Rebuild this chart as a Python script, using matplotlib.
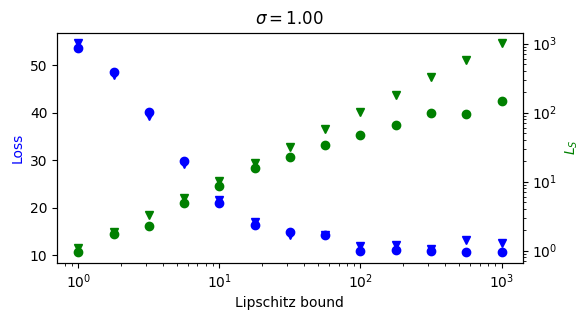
import numpy as np
import matplotlib
matplotlib.use("Agg")
import matplotlib.pyplot as plt

lip = [1.0, 1.78, 3.16, 5.62, 10.0, 17.8, 31.6, 56.2, 100.0, 178.0, 316.0, 562.0, 1000.0]

loss_a = [53.6, 48.6, 40.2, 29.8, 21.0, 16.5, 14.9, 14.2, 11.0, 11.25, 11.0, 10.8, 10.7]
loss_b = [54.6, 48.0, 39.4, 29.3, 21.7, 17.1, 14.4, 14.2, 11.9, 12.1, 11.4, 13.2, 12.6]

ls_a = [0.95, 1.76, 2.24, 4.88, 8.67, 15.6, 22.9, 33.5, 46.7, 65.0, 100.0, 94.0, 145.0]
ls_b = [1.09, 1.85, 3.23, 5.76, 10.3, 18.4, 32.0, 57.6, 102.0, 182.0, 327.0, 586.0, 1013.0]

fig, ax = plt.subplots(figsize=(5.88, 3.21), dpi=100)
fig.subplots_adjust(left=0.097, right=0.889, top=0.898, bottom=0.182)

ax.plot(lip, loss_a, 'o', color='blue')
ax.plot(lip, loss_b, 'v', color='blue')
ax.set_xscale('log')
ax.set_xlabel('Lipschitz bound')
ax.set_ylabel('Loss', color='blue')
ax.set_title(r'$\sigma = 1.00$')

ax2 = ax.twinx()
ax2.plot(lip, ls_a, 'o', color='green')
ax2.plot(lip, ls_b, 'v', color='green')
ax2.set_yscale('log')
ax2.set_ylabel('$L_S$', color='green')

fig.savefig('out.png', dpi=100)
